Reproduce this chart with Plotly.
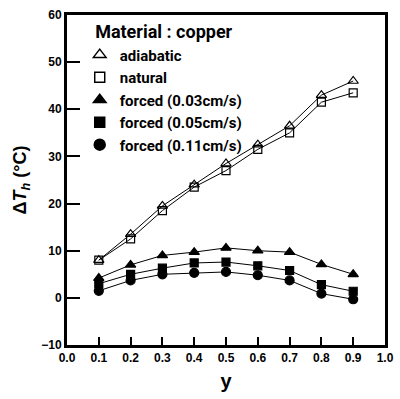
import plotly.graph_objects as go

y_pos = [0.1, 0.2, 0.3, 0.4, 0.5, 0.6, 0.7, 0.8, 0.9]
adiabatic = [8.0, 13.5, 19.5, 24.0, 28.5, 32.5, 36.5, 43.0, 46.0]
natural = [8.0, 12.5, 18.5, 23.5, 27.0, 31.5, 35.0, 41.5, 43.5]
forced_003 = [4.2, 7.0, 9.0, 9.7, 10.6, 10.0, 9.7, 7.1, 5.0]
forced_005 = [3.0, 5.0, 6.3, 7.4, 7.6, 6.8, 5.8, 2.8, 1.4]
forced_011 = [1.5, 3.7, 5.0, 5.3, 5.5, 4.8, 3.7, 0.9, -0.3]

series = [
    ("adiabatic", adiabatic, "triangle-up-open", 9),
    ("natural", natural, "square-open", 8),
    ("forced (0.03cm/s)", forced_003, "triangle-up", 9),
    ("forced (0.05cm/s)", forced_005, "square", 8),
    ("forced (0.11cm/s)", forced_011, "circle", 9),
]

font_fam = "Liberation Sans, Arial, sans-serif"
leg_fam = "Roboto, Liberation Sans, Arial, sans-serif"

fig = go.Figure()
for name, vals, sym, sz in series:
    fig.add_trace(go.Scatter(
        x=y_pos, y=vals, name=name, mode="lines+markers", showlegend=False,
        line=dict(color="black", width=1),
        marker=dict(symbol=sym, size=sz, color="black",
                    line=dict(color="black", width=1.2)),
    ))
# marker-only legend entries
for name, vals, sym, sz in series:
    fig.add_trace(go.Scatter(
        x=[None], y=[None], name=name, mode="markers", showlegend=True,
        marker=dict(symbol=sym, size=sz + 2, color="black",
                    line=dict(color="black", width=1.5)),
    ))

fig.update_layout(
    width=400, height=399,
    margin=dict(l=67, r=6, t=15, b=54),
    paper_bgcolor="white", plot_bgcolor="white",
    font=dict(family=font_fam, color="black", size=12),
    showlegend=True,
    legend=dict(
        x=0.04, y=1.0, xanchor="left", yanchor="top",
        bgcolor="rgba(0,0,0,0)",
        font=dict(family=leg_fam, size=15, color="black", weight="bold"),
        title=dict(text="\u00a0\u00a0\u00a0Material : copper",
                   font=dict(family=leg_fam, size=18, color="black", weight="bold")),
        itemwidth=30, tracegroupgap=0,
    ),
)

fig.update_xaxes(
    range=[0, 1], tickvals=[0, 0.1, 0.2, 0.3, 0.4, 0.5, 0.6, 0.7, 0.8, 0.9, 1.0],
    ticktext=["0.0", "0.1", "0.2", "0.3", "0.4", "0.5", "0.6", "0.7", "0.8", "0.9", "1.0"],
    ticks="inside", ticklen=8, tickwidth=2, tickcolor="black",
    showline=True, linecolor="black", linewidth=3, mirror=True,
    showgrid=False, zeroline=False,
    tickfont=dict(family=font_fam, size=12, color="black", weight="bold"),
    title=dict(text="y", font=dict(family=font_fam, size=20, weight="bold"), standoff=10),
)
fig.update_yaxes(
    range=[-10, 60], tickvals=[-10, 0, 10, 20, 30, 40, 50, 60],
    ticks="inside", ticklen=13, tickwidth=2, tickcolor="black",
    showline=True, linecolor="black", linewidth=3, mirror=True,
    showgrid=False, zeroline=False,
    tickfont=dict(family=font_fam, size=12, color="black", weight="bold"),
    title=dict(text="Δ<i>T</i><sub><i>h</i></sub> (°C)",
               font=dict(family=font_fam, size=18, weight="bold"), standoff=10),
)

fig.write_html("out.html")
